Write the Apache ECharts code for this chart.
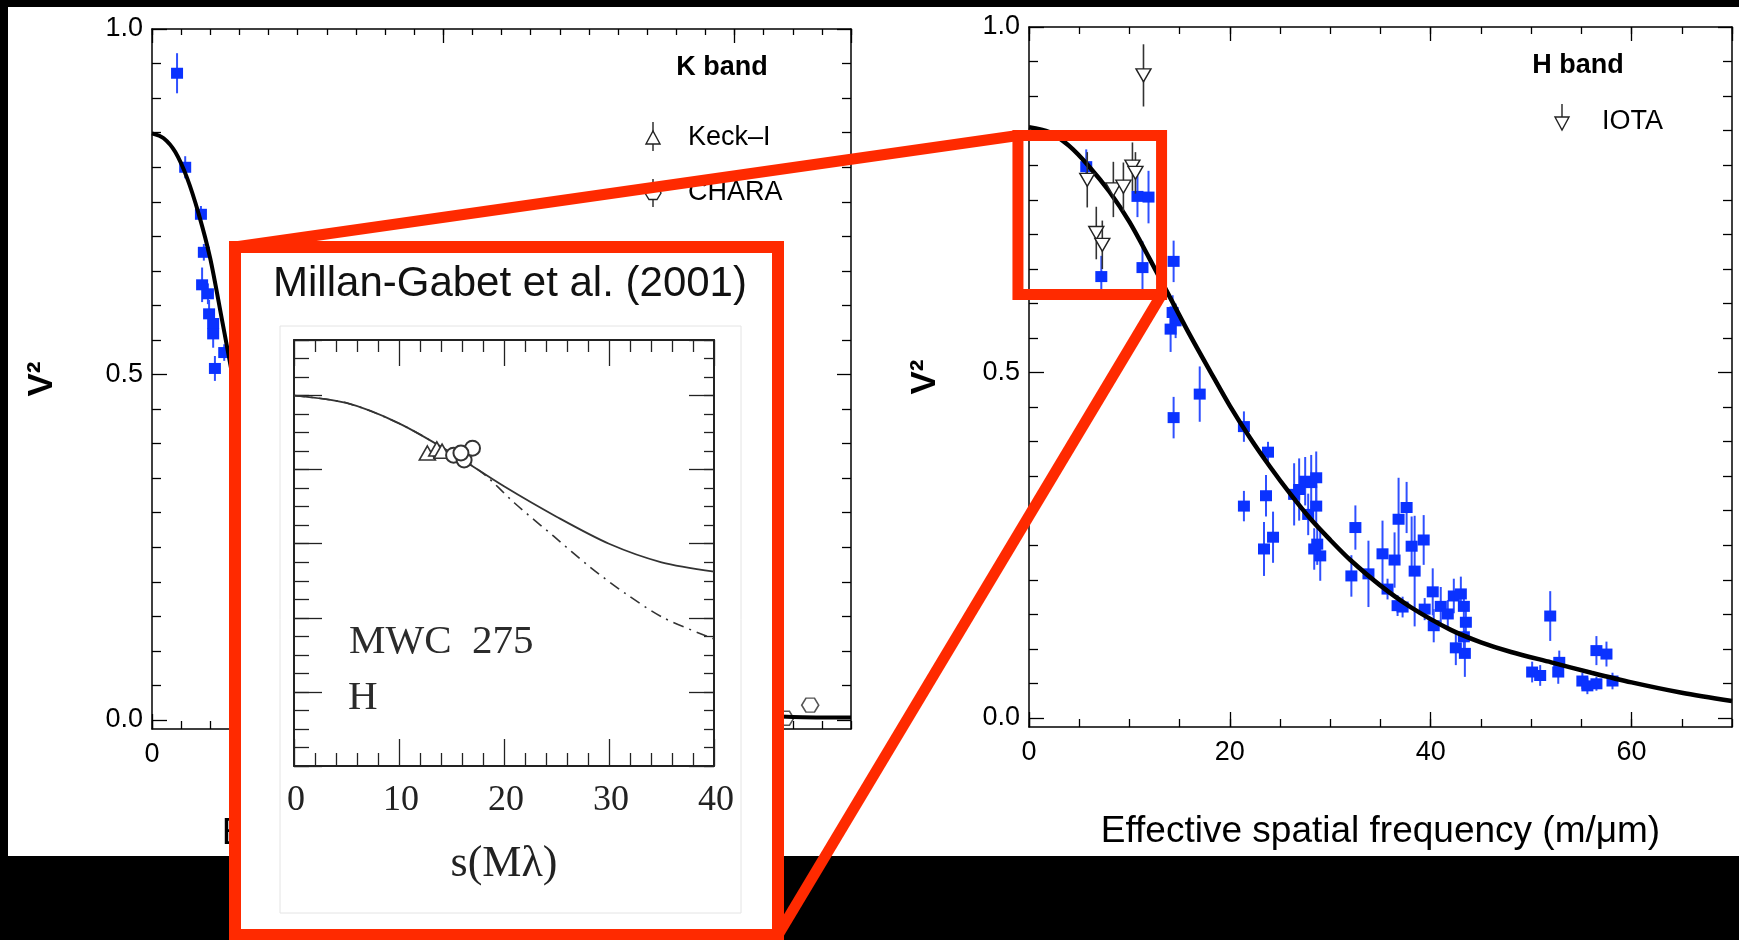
<!DOCTYPE html>
<html>
<head>
<meta charset="utf-8">
<script src="https://cdn.jsdelivr.net/npm/echarts@6/dist/echarts.min.js"></script>
<style>
html,body{margin:0;padding:0;background:#000;}
#c{width:1739px;height:940px;}
</style>
</head>
<body>
<div id="c"></div>
<script>
// ---------------- DATA ----------------
// K band (left panel): [spatial frequency, V^2, error]
const kSquares = [
  [4.3,0.936,0.029],[5.7,0.800,0.016],[8.4,0.732,0.012],[8.9,0.677,0.012],
  [8.6,0.630,0.025],[9.6,0.617,0.015],[9.8,0.588,0.020],[10.5,0.574,0.012],
  [10.5,0.559,0.020],[12.4,0.532,0.012],[10.8,0.509,0.018]
];
const kCharaPoints = [[108.7,0.003],[113.0,0.022]];
const kCurveX = [0,2,4,6,8,10,12,13,14,16,20,25,30,40,50,60,80,100,110,120];
const kCurveY = [0.849,0.842,0.822,0.785,0.733,0.668,0.580,0.535,0.490,0.400,0.260,0.150,0.095,0.050,0.032,0.022,0.013,0.008,0.005,0.004];

// H band (right panel): [spatial frequency, V^2, error]
const hSquares = [
  [5.7,0.798,0.025],[10.8,0.755,0.030],[11.9,0.754,0.038],[7.2,0.639,0.030],
  [11.3,0.652,0.038],[14.4,0.661,0.030],[14.3,0.587,0.025],[14.6,0.575,0.025],
  [14.1,0.563,0.033],[14.4,0.435,0.030],[17.0,0.469,0.040],[21.4,0.422,0.022],
  [23.8,0.385,0.015],[21.4,0.307,0.022],[23.6,0.322,0.030],[23.4,0.245,0.039],
  [24.3,0.262,0.037],[26.4,0.324,0.045],[26.9,0.331,0.045],[27.5,0.343,0.035],
  [28.1,0.341,0.040],[28.6,0.348,0.038],[28.6,0.307,0.030],[27.8,0.295,0.030],
  [28.7,0.252,0.030],[29.0,0.235,0.036],[28.4,0.245,0.030],[32.5,0.276,0.032],
  [32.1,0.206,0.030],[33.8,0.209,0.048],[35.2,0.238,0.048],[36.4,0.229,0.040],
  [35.7,0.187,0.015],[36.8,0.288,0.060],[37.6,0.305,0.037],[38.1,0.249,0.043],
  [38.4,0.213,0.080],[39.3,0.258,0.036],[36.7,0.163,0.015],[37.2,0.161,0.015],
  [40.2,0.183,0.034],[39.4,0.158,0.016],[40.3,0.134,0.024],[41.0,0.162,0.028],
  [41.7,0.151,0.020],[42.3,0.177,0.025],[43.0,0.180,0.025],[43.3,0.162,0.020],
  [43.5,0.139,0.020],[42.5,0.102,0.025],[43.4,0.094,0.034],[43.3,0.118,0.020],
  [50.1,0.067,0.015],[50.9,0.062,0.015],[51.9,0.148,0.036],[52.7,0.067,0.017],
  [52.8,0.081,0.017],[55.1,0.054,0.012],[55.6,0.047,0.012],[56.5,0.050,0.010],
  [56.5,0.098,0.021],[57.5,0.093,0.018],[58.1,0.054,0.012]
];
const hIotaPoints = [
  [11.4,0.930,0.045],[10.3,0.798,0.035],[10.6,0.789,0.030],[5.8,0.779,0.040],
  [8.4,0.765,0.040],[9.4,0.769,0.035],[6.7,0.702,0.038],[7.3,0.685,0.035]
];
const hCurveX = [0,2,4,6,8,10,12,14,16,18,20,22,24,26,28,30,32,35,38,42,45,48,52,56,60,65,70];
const hCurveY = [0.855,0.848,0.828,0.798,0.762,0.718,0.665,0.610,0.555,0.503,0.452,0.406,0.364,0.325,0.289,0.258,0.229,0.192,0.161,0.128,0.110,0.096,0.081,0.066,0.052,0.037,0.025];

// Inset (Millan-Gabet et al. 2001)
const mgSolidX = [0,5,10,15,20,25,30,35,40];
const mgSolidY = [1.0,0.98,0.925,0.845,0.755,0.673,0.600,0.550,0.525];
const mgDashX = [0,5,10,15,18,21,24.7,28.2,31.7,35.2,40];
const mgDashY = [1.0,0.98,0.925,0.845,0.79,0.71,0.621,0.537,0.463,0.400,0.343];
const mgKeck = [[12.7,0.845],[13.6,0.856],[14.1,0.850]];
const mgChara = [[15.2,0.839],[16.2,0.826],[17.0,0.858],[15.9,0.845]];

// axis ranges / texts
const kXRange = [0,120];
const hXRange = [0,70];
const v2Range = [-0.0125,1];
const insetXRange = [0,40];
const insetYRange = [0,1.15];
const zoomBox = {x:[-1.1,13.2], y:[0.613,0.843]};
const xTitle = 'Effective spatial frequency (m/\u03bcm)';

// ---------------- STYLE ----------------
const SANS = "'Liberation Sans', Arial, Helvetica, sans-serif";
const SERIF = "'Liberation Serif', 'Times New Roman', serif";
const INK = '#000';
const BLUE = '#0a32ff';
const BLUE_ERR = '#2f50ff';
const RED = '#ff2a00';

function mkAxis(o){
  const a = {
    type:'value', gridIndex:o.grid, position:o.pos, min:o.range[0], max:o.range[1],
    z:o.z||0, splitLine:{show:false},
    axisLine:{show:!!o.line, onZero:false, lineStyle:{color:o.color||INK, width:o.lineW||1.5}},
    axisTick:{show:(o.tick||0)>0, inside:true, length:o.tick||0, lineStyle:{color:o.color||INK, width:o.tickW||1.3}},
    minorTick:{show:(o.minor||0)>0, splitNumber:o.minorSplit||5, length:o.minor||0, lineStyle:{color:o.color||INK, width:o.tickW||1.3}},
    axisLabel:Object.assign({show:!!o.labels}, o.labelOpts||{})
  };
  if (o.interval !== undefined) a.interval = o.interval;
  return Object.assign(a, o.extra||{});
}
const tickLabel = {margin:12, fontSize:27, color:INK, fontFamily:SANS, showMaxLabel:false};
const yLabel = {margin:9, fontSize:27, color:INK, fontFamily:SANS, formatter:v=>v.toFixed(1)};
const xName = {name:xTitle, nameLocation:'middle', nameGap:86, nameTextStyle:{fontSize:37, color:INK, fontFamily:SANS}};
const vName = gap => ({name:'V\u00b2', nameLocation:'middle', nameGap:gap, nameTextStyle:{fontSize:35, fontWeight:'bold', color:INK, fontFamily:SANS}});

function errSeries(data, xi, yi, color, width, z){
  return {
    type:'custom', xAxisIndex:xi, yAxisIndex:yi, data:data, z:z, silent:true, encode:{x:0,y:1},
    renderItem:function(p, api){
      const x=api.value(0), y=api.value(1), e=api.value(2);
      const a=api.coord([x,y-e]), b=api.coord([x,y+e]);
      return {type:'line', shape:{x1:a[0],y1:a[1],x2:b[0],y2:b[1]}, style:{stroke:color, lineWidth:width}};
    }
  };
}
const zip = (xs, ys) => xs.map((x,i)=>[x, ys[i]]);
const hexPath = 'path://M-10,0 L-5,-8.66 L5,-8.66 L10,0 L5,8.66 L-5,8.66 Z';

const chart = echarts.init(document.getElementById('c'), null, {renderer:'canvas'});

const option = {
  backgroundColor:'#000',
  animation:false,
  grid:[
    {left:152, top:29, width:699, height:700},
    {left:152, top:29, width:699, height:691},
    {left:1029, top:27, width:703, height:700},
    {left:1029, top:27, width:703, height:691},
    {left:294, top:340, width:420, height:426}
  ],
  xAxis:[
    mkAxis({grid:0,pos:'bottom',range:kXRange,interval:50,line:true,tick:15,labels:true,labelOpts:tickLabel,extra:xName}),
    mkAxis({grid:0,pos:'bottom',range:kXRange,interval:5,tick:8}),
    mkAxis({grid:0,pos:'top',range:kXRange,interval:50,line:true,tick:14}),
    mkAxis({grid:0,pos:'top',range:kXRange,interval:5,tick:6}),
    {type:'value', gridIndex:1, show:false, min:kXRange[0], max:kXRange[1]},
    mkAxis({grid:2,pos:'bottom',range:hXRange,interval:20,line:true,tick:15,labels:true,labelOpts:tickLabel,extra:xName}),
    mkAxis({grid:2,pos:'bottom',range:hXRange,interval:5,tick:8}),
    mkAxis({grid:2,pos:'top',range:hXRange,interval:20,line:true,tick:14}),
    mkAxis({grid:2,pos:'top',range:hXRange,interval:5,tick:7}),
    {type:'value', gridIndex:3, show:false, min:hXRange[0], max:hXRange[1]},
    mkAxis({grid:4,pos:'bottom',range:insetXRange,interval:10,line:true,lineW:2,color:'#222',tick:27,minor:13,minorSplit:5,z:20,labels:true,
      labelOpts:{margin:17, fontSize:36, color:'#222', fontFamily:SERIF, padding:[0,0,0,4]},
      extra:{name:'s(M\u03bb)', nameLocation:'middle', nameGap:76, nameTextStyle:{fontSize:44, color:'#222', fontFamily:SERIF}}}),
    mkAxis({grid:4,pos:'top',range:insetXRange,interval:10,line:true,lineW:2,color:'#222',tick:26,minor:12,minorSplit:5,z:20})
  ],
  yAxis:[
    mkAxis({grid:0,pos:'left',range:v2Range,line:true,extra:vName(92)}),
    mkAxis({grid:0,pos:'right',range:v2Range,line:true}),
    mkAxis({grid:1,pos:'left',range:[0,1],interval:0.5,tick:15,minor:9,minorSplit:10,labels:true,labelOpts:yLabel}),
    mkAxis({grid:1,pos:'right',range:[0,1],interval:0.5,tick:14,minor:9,minorSplit:10}),
    mkAxis({grid:2,pos:'left',range:v2Range,line:true,extra:vName(86)}),
    mkAxis({grid:2,pos:'right',range:v2Range,line:true}),
    mkAxis({grid:3,pos:'left',range:[0,1],interval:0.5,tick:15,minor:9,minorSplit:10,labels:true,labelOpts:yLabel}),
    mkAxis({grid:3,pos:'right',range:[0,1],interval:0.5,tick:14,minor:9,minorSplit:10}),
    mkAxis({grid:4,pos:'left',range:insetYRange,interval:0.2,line:true,lineW:2,color:'#222',tick:28,z:20}),
    mkAxis({grid:4,pos:'left',range:insetYRange,interval:0.05,color:'#222',tick:15,z:20}),
    mkAxis({grid:4,pos:'right',range:insetYRange,interval:0.2,line:true,lineW:2,color:'#222',tick:25,z:20}),
    mkAxis({grid:4,pos:'right',range:insetYRange,interval:0.05,color:'#222',tick:10,z:20})
  ],
  series:[
    // K band
    errSeries(kSquares, 0, 0, BLUE_ERR, 2, 3),
    {type:'scatter', xAxisIndex:0, yAxisIndex:0, data:kSquares.map(d=>[d[0],d[1]]), symbol:'rect', symbolSize:[12,11], itemStyle:{color:BLUE, opacity:1}, z:3, silent:true},
    {type:'scatter', xAxisIndex:0, yAxisIndex:0, data:kCharaPoints, symbol:hexPath, symbolSize:[17,14], itemStyle:{color:'#fff', borderColor:'#555', borderWidth:1.5, opacity:1}, z:3, silent:true},
    {type:'line', xAxisIndex:0, yAxisIndex:0, data:zip(kCurveX,kCurveY), smooth:0.3, showSymbol:false, symbol:'none', lineStyle:{color:INK, width:4}, z:4, silent:true},
    // H band
    errSeries(hSquares, 5, 4, BLUE_ERR, 2, 3),
    {type:'scatter', xAxisIndex:5, yAxisIndex:4, data:hSquares.map(d=>[d[0],d[1]]), symbol:'rect', symbolSize:[12,11], itemStyle:{color:BLUE, opacity:1}, z:3, silent:true},
    {type:'line', xAxisIndex:5, yAxisIndex:4, data:zip(hCurveX,hCurveY), smooth:0.3, showSymbol:false, symbol:'none', lineStyle:{color:INK, width:4.5}, z:4, silent:true},
    errSeries(hIotaPoints, 5, 4, '#333', 1.6, 5),
    {type:'scatter', xAxisIndex:5, yAxisIndex:4, data:hIotaPoints.map(d=>[d[0],d[1]]), symbol:'path://M0,0 L12,0 L6,11 Z', symbolSize:[15,13], itemStyle:{color:'#fff', borderColor:'#222', borderWidth:1.4, opacity:1}, z:6, silent:true},
    // Inset
    {type:'line', xAxisIndex:10, yAxisIndex:8, data:zip(mgDashX,mgDashY), smooth:0.3, showSymbol:false, symbol:'none', lineStyle:{color:'#333', width:1.6, type:[11,6,2,6]}, z:21, silent:true},
    {type:'line', xAxisIndex:10, yAxisIndex:8, data:zip(mgSolidX,mgSolidY), smooth:0.3, showSymbol:false, symbol:'none', lineStyle:{color:'#333', width:1.8}, z:21, silent:true},
    {type:'scatter', xAxisIndex:10, yAxisIndex:8, data:mgKeck, symbol:'path://M6,0 L12,11 L0,11 Z', symbolSize:[16,14], itemStyle:{color:'#fff', borderColor:'#333', borderWidth:1.6, opacity:1}, z:22, silent:true},
    {type:'scatter', xAxisIndex:10, yAxisIndex:8, data:mgChara, symbol:'emptyCircle', symbolSize:15, itemStyle:{color:'#333', borderWidth:1.6, opacity:1}, z:22, silent:true}
  ]
};
chart.setOption(option);

// ---------------- ANNOTATIONS ----------------
const hSeriesIdx = 5;
const tl = chart.convertToPixel({seriesIndex:hSeriesIdx}, [zoomBox.x[0], zoomBox.y[1]]);
const br = chart.convertToPixel({seriesIndex:hSeriesIdx}, [zoomBox.x[1], zoomBox.y[0]]);
const INSET = {x:235, y:247, w:543, h:688};

function txt(x, y, text, size, opts){
  return Object.assign({type:'text', x:x, y:y, silent:true, z:5,
    style:Object.assign({text:text, fontSize:size, fontFamily:SANS, fill:INK, align:'left', verticalAlign:'middle'}, (opts&&opts.style)||{})},
    (opts&&opts.el)||{});
}

const elements = [
  {type:'rect', shape:{x:8, y:7, width:1731, height:849}, style:{fill:'#fff'}, z:-10, silent:true},
  // K band legend
  txt(722, 68, 'K band', 27, {style:{fontWeight:'bold', align:'center'}}),
  {type:'line', shape:{x1:653,y1:122,x2:653,y2:151}, style:{stroke:'#222', lineWidth:1.4}, z:5, silent:true},
  {type:'polygon', shape:{points:[[646,144],[660,144],[653,131]]}, style:{fill:'#fff', stroke:'#222', lineWidth:1.4}, z:5, silent:true},
  txt(688, 138, 'Keck\u2013I', 27),
  {type:'line', shape:{x1:653,y1:179,x2:653,y2:207}, style:{stroke:'#222', lineWidth:1.4}, z:5, silent:true},
  {type:'polygon', shape:{points:[[645,193],[649,186.5],[657,186.5],[661,193],[657,199.5],[649,199.5]]}, style:{fill:'#fff', stroke:'#222', lineWidth:1.4}, z:5, silent:true},
  txt(688, 193, 'CHARA', 27),
  // H band legend
  txt(1578, 66, 'H band', 27, {style:{fontWeight:'bold', align:'center'}}),
  {type:'line', shape:{x1:1562,y1:104,x2:1562,y2:118}, style:{stroke:'#222', lineWidth:1.4}, z:5, silent:true},
  {type:'polygon', shape:{points:[[1555,117],[1569,117],[1562,130]]}, style:{fill:'#fff', stroke:'#222', lineWidth:1.4}, z:5, silent:true},
  txt(1602, 122, 'IOTA', 27),
  // zoom box on H panel
  {type:'rect', shape:{x:tl[0], y:tl[1], width:br[0]-tl[0], height:br[1]-tl[1]}, style:{fill:'none', stroke:RED, lineWidth:11}, z:10, silent:true},
  // connectors
  {type:'line', shape:{x1:INSET.x, y1:INSET.y, x2:tl[0], y2:tl[1]}, style:{stroke:RED, lineWidth:11}, z:10, silent:true},
  {type:'line', shape:{x1:INSET.x+INSET.w, y1:INSET.y+INSET.h, x2:br[0], y2:br[1]}, style:{stroke:RED, lineWidth:11}, z:10, silent:true},
  // inset panel
  {type:'rect', shape:{x:INSET.x, y:INSET.y, width:INSET.w, height:INSET.h}, style:{fill:'#fff', stroke:RED, lineWidth:12}, z:11, silent:true},
  {type:'rect', shape:{x:280, y:326, width:461, height:587}, style:{fill:'none', stroke:'#e4e4e4', lineWidth:1}, z:12, silent:true},
  txt(510, 284, 'Millan-Gabet et al. (2001)', 42, {style:{align:'center', fill:'#111'}, el:{z:22}}),
  txt(349, 642, 'MWC  275', 41, {style:{fontFamily:SERIF, fill:'#2b2b2b'}, el:{z:22}}),
  txt(348, 698, 'H', 41, {style:{fontFamily:SERIF, fill:'#2b2b2b'}, el:{z:22}})
];
chart.setOption({graphic:{elements:elements}});
</script>
</body>
</html>
